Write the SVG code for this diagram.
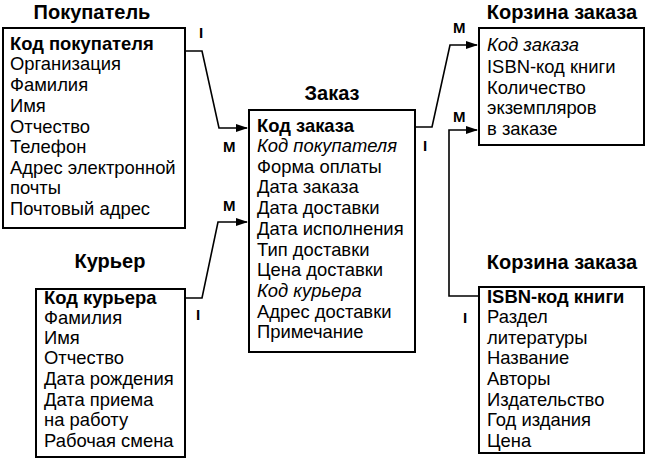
<svg xmlns="http://www.w3.org/2000/svg" width="646" height="459" viewBox="0 0 646 459">
<defs>
<marker id="arr" markerWidth="12" markerHeight="10" refX="11" refY="5" orient="auto" markerUnits="userSpaceOnUse">
<path d="M0,1 L12,5 L0,9 Z" fill="#000"/>
</marker>
<style>
.box{fill:#fff;stroke:#000;stroke-width:2}
.t{font-family:"Liberation Sans",Arial,sans-serif;font-size:18.4px;fill:#000}
.b{font-weight:bold}
.i{font-style:italic}
.h{font-family:"Liberation Sans",Arial,sans-serif;font-size:20px;font-weight:bold;text-anchor:middle;fill:#000}
.lbl{font-family:"Liberation Sans",Arial,sans-serif;font-size:15px;font-weight:bold;fill:#000}
.c{fill:none;stroke:#000;stroke-width:1.6}
</style>
</defs>
<rect width="646" height="459" fill="#fff"/>
<g id="connectors">
<polyline class="c" points="185,51 202,51 219,128 247,128" marker-end="url(#arr)"/>
<polyline class="c" points="185,298 202,298 218,222 247,222" marker-end="url(#arr)"/>
<polyline class="c" points="415,127 432,127 450,45 477,45" marker-end="url(#arr)"/>
<polyline class="c" points="479,296 449,296 449,130 477,130" marker-end="url(#arr)"/>
<text class="lbl" x="199" y="38">I</text>
<text class="lbl" x="223" y="152">M</text>
<text class="lbl" x="223" y="211">M</text>
<text class="lbl" x="196" y="320">I</text>
<text class="lbl" x="423" y="151">I</text>
<text class="lbl" x="453" y="33">M</text>
<text class="lbl" x="453" y="122">M</text>
<text class="lbl" x="463" y="323">I</text>
</g>
<g id="pokupatel">
<text class="h" x="92" y="19">Покупатель</text>
<rect class="box" x="3" y="28" width="182" height="200"/>
<text class="t b" x="10" y="50">Код покупателя</text>
<text class="t" x="10" y="70">Организация</text>
<text class="t" x="10" y="91">Фамилия</text>
<text class="t" x="10" y="112">Имя</text>
<text class="t" x="10" y="133">Отчество</text>
<text class="t" x="10" y="153">Телефон</text>
<text class="t" x="10" y="174">Адрес электронной</text>
<text class="t" x="10" y="194">почты</text>
<text class="t" x="10" y="215">Почтовый адрес</text>
</g>
<g id="kurier">
<text class="h" x="110" y="268">Курьер</text>
<rect class="box" x="36" y="289" width="149" height="168"/>
<text class="t b" x="44" y="304">Код курьера</text>
<text class="t" x="44" y="324">Фамилия</text>
<text class="t" x="44" y="344">Имя</text>
<text class="t" x="44" y="364">Отчество</text>
<text class="t" x="44" y="385">Дата рождения</text>
<text class="t" x="44" y="406">Дата приема</text>
<text class="t" x="44" y="426">на работу</text>
<text class="t" x="44" y="447">Рабочая смена</text>
</g>
<g id="zakaz">
<text class="h" x="332" y="100">Заказ</text>
<rect class="box" x="249" y="110" width="166" height="242"/>
<text class="t b" x="257" y="132">Код заказа</text>
<text class="t i" x="257" y="152">Код покупателя</text>
<text class="t" x="257" y="173">Форма оплаты</text>
<text class="t" x="257" y="193">Дата заказа</text>
<text class="t" x="257" y="214">Дата доставки</text>
<text class="t" x="257" y="235">Дата исполнения</text>
<text class="t" x="257" y="256">Тип доставки</text>
<text class="t" x="257" y="276">Цена доставки</text>
<text class="t i" x="257" y="297">Код курьера</text>
<text class="t" x="257" y="318">Адрес доставки</text>
<text class="t" x="257" y="338">Примечание</text>
</g>
<g id="korzina">
<text class="h" x="562" y="19">Корзина заказа</text>
<rect class="box" x="479" y="28" width="165" height="117"/>
<text class="t i" x="487" y="51">Код заказа</text>
<text class="t" x="487" y="73">ISBN-код книги</text>
<text class="t" x="487" y="94">Количество</text>
<text class="t" x="487" y="114">экземпляров</text>
<text class="t" x="487" y="135">в заказе</text>
</g>
<g id="knigi">
<text class="h" x="562" y="269">Корзина заказа</text>
<rect class="box" x="479" y="287" width="165" height="166"/>
<text class="t b" x="487" y="303">ISBN-код книги</text>
<text class="t" x="487" y="323">Раздел</text>
<text class="t" x="487" y="344">литературы</text>
<text class="t" x="487" y="364">Название</text>
<text class="t" x="487" y="385">Авторы</text>
<text class="t" x="487" y="406">Издательство</text>
<text class="t" x="487" y="426">Год издания</text>
<text class="t" x="487" y="447">Цена</text>
</g>
</svg>
